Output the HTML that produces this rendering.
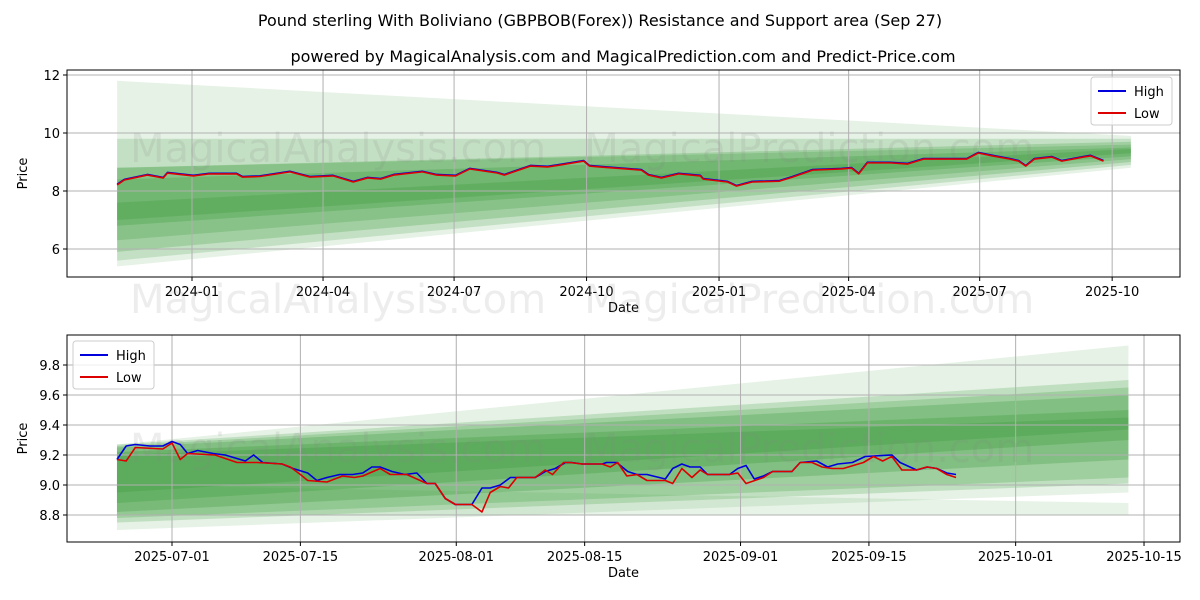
<!DOCTYPE html>
<html><head><meta charset="utf-8">
<style>
html,body{margin:0;padding:0;background:#fff;}
svg{display:block;font-family:"DejaVu Sans","Liberation Sans",sans-serif;}
</style></head>
<body>
<svg id="chart" width="1200" height="600" viewBox="0 0 1200 600" xmlns="http://www.w3.org/2000/svg">
<rect width="1200" height="600" fill="#fff"/>
<text x="600" y="26" font-size="16" text-anchor="middle">Pound sterling With Boliviano (GBPBOB(Forex)) Resistance and Support area (Sep 27)</text>
<text x="623" y="62" font-size="16" text-anchor="middle">powered by MagicalAnalysis.com and MagicalPrediction.com and Predict-Price.com</text>
<g id="top"></g>
<g id="bot"></g>
</svg>
<script>
// ---------- TOP CHART DATA (days since 2024-01-01) ----------
const topDays = [-52,-47,-31,-20,-17,1,12,31,35,47,68,82,98,112,122,131,140,160,170,183,193,212,217,235,247,256,272,276,283,312,317,326,338,353,355,372,378,389,408,417,431,451,458,463,469,485,497,508,538,546,556,568,574,579,585,597,604,619,624,633];
const topVals = [8.21,8.38,8.55,8.45,8.62,8.52,8.59,8.59,8.48,8.50,8.66,8.48,8.52,8.31,8.45,8.41,8.55,8.66,8.55,8.52,8.76,8.62,8.55,8.86,8.83,8.90,9.03,8.86,8.83,8.72,8.55,8.45,8.59,8.52,8.41,8.31,8.17,8.31,8.34,8.48,8.72,8.76,8.79,8.59,8.97,8.97,8.93,9.10,9.10,9.31,9.21,9.10,9.03,8.86,9.10,9.17,9.03,9.17,9.21,9.03];
const topTickLabels = ["2024-01","2024-04","2024-07","2024-10","2025-01","2025-04","2025-07","2025-10"];
const topTickDays = [0,91,182,274,366,456,547,639];
const topYTicks = [6,8,10,12];
const topBandStartLow = [5.4,5.6,5.9,6.3,6.8,7.0];
const topBandStartHigh = [11.8,9.8,8.8,8.8,8.4,7.6];
const topBandEndLow = [8.8,8.9,9.0,9.1,9.2,9.3];
const topBandEndHigh = [9.9,9.8,9.7,9.6,9.5,9.45];
const topBandAlpha = [0.13,0.2,0.25,0.25,0.3,0.3];

// ---------- BOTTOM CHART DATA (days since 2025-07-01) ----------
const hiDays = [-6,-5,-4,-2.4,-1,0,0.9,1.7,2.8,4.5,5.8,8,8.9,9.9,12,13.2,14.8,15.8,16.9,18.3,19.7,20.8,21.8,22.7,24,25.4,26.7,27.8,28.7,29.8,30.9,32.7,33.8,34.7,35.8,36.9,37.7,39.6,40.7,41.8,42.9,43.6,44.7,46.9,47.4,48.5,49.7,50.7,51.8,53.8,54.6,55.6,56.5,57.6,58.4,60.8,61.7,62.6,63.5,64.5,65.5,67.6,68.5,70.3,71.5,72.6,74.2,75.6,78.5,79.4,81.2,82.4,83.4,84.5,85.5];
const hiVals = [9.17,9.26,9.27,9.26,9.26,9.29,9.27,9.21,9.23,9.21,9.20,9.16,9.20,9.15,9.14,9.11,9.08,9.03,9.05,9.07,9.07,9.08,9.12,9.12,9.09,9.07,9.08,9.01,9.01,8.91,8.87,8.87,8.98,8.98,9.00,9.05,9.05,9.05,9.09,9.11,9.15,9.15,9.14,9.14,9.15,9.15,9.09,9.07,9.07,9.04,9.11,9.14,9.12,9.12,9.07,9.07,9.11,9.13,9.04,9.06,9.09,9.09,9.15,9.16,9.12,9.14,9.15,9.19,9.20,9.15,9.10,9.12,9.11,9.08,9.07];
const loDays = [-6,-5,-4,-1,0,0.9,1.7,4.7,7.1,9.3,12,12.9,14,14.8,16.9,18.6,19.9,20.8,22.7,23.8,25.6,27.8,28.7,29.8,30.9,32.7,33.8,34.7,35.8,36.7,37.6,39.6,40.7,41.5,42.7,43.4,44.7,46.9,47.8,48.6,49.6,50.7,51.8,53.8,54.6,55.6,56.7,57.6,58.4,60.8,61.7,62.6,64.5,65.5,67.6,68.5,69.8,70.9,72,73.2,75.4,76.5,77.5,78.5,79.6,81.2,82.3,83.4,84.5,85.5];
const loVals = [9.17,9.16,9.25,9.24,9.28,9.17,9.21,9.20,9.15,9.15,9.14,9.12,9.07,9.03,9.02,9.06,9.05,9.06,9.11,9.07,9.07,9.01,9.01,8.91,8.87,8.87,8.82,8.95,8.99,8.98,9.05,9.05,9.10,9.07,9.15,9.15,9.14,9.14,9.12,9.15,9.06,9.07,9.03,9.03,9.01,9.11,9.05,9.10,9.07,9.07,9.08,9.01,9.05,9.09,9.09,9.15,9.15,9.12,9.11,9.11,9.15,9.19,9.16,9.19,9.10,9.10,9.12,9.11,9.07,9.05];
const botTickLabels = ["2025-07-01","2025-07-15","2025-08-01","2025-08-15","2025-09-01","2025-09-15","2025-10-01","2025-10-15"];
const botTickDays = [0,14,31,45,62,76,92,106];
const botYTicks = [8.8,9.0,9.2,9.4,9.6,9.8];
const botBandStartLow = [8.70,8.75,8.78,8.82,8.88,8.95,8.80];
const botBandStartHigh = [9.27,9.27,9.26,9.25,9.22,9.20,9.00];
const botBandEndLow = [8.95,9.01,9.05,9.17,9.30,9.37,8.80];
const botBandEndHigh = [9.93,9.70,9.65,9.60,9.50,9.45,8.88];
const botBandAlpha = [0.13,0.22,0.25,0.28,0.3,0.3,0.12];

const NS = "http://www.w3.org/2000/svg";
function mk(parent, tag, attrs){const e=document.createElementNS(NS,tag);for(const k in attrs)e.setAttribute(k,attrs[k]);parent.appendChild(e);return e;}

function panel(g, cfg){
  const {L,R,T,B,xs,ys,bandStart,bandEnd,sL,sH,eL,eH,al,yTicks,yFmt,tickDays,tickLabels,lines,legendX,legendY,wm} = cfg;
  const clipId = cfg.id+"clip";
  const defs = mk(g,"defs",{});
  const cp = mk(defs,"clipPath",{id:clipId});
  mk(cp,"rect",{x:L,y:T,width:R-L,height:B-T});
  const plot = mk(g,"g",{"clip-path":"url(#"+clipId+")"});
  for(let i=0;i<sL.length;i++){
    const x0=xs(bandStart), x1=xs(bandEnd);
    const p = mk(plot,"polygon",{points:`${x0},${ys(sH[i])} ${x1},${ys(eH[i])} ${x1},${ys(eL[i])} ${x0},${ys(sL[i])}`,fill:"#3a9a3a","fill-opacity":al[i]});
    
    
  }
  yTicks.forEach(v=>{
    const y=ys(v);
    mk(plot,"line",{x1:L,x2:R,y1:y,y2:y,stroke:"#b0b0b0","stroke-width":1});
    const t=mk(g,"text",{x:L-7,y:y+5,"font-size":13,"text-anchor":"end"});t.textContent=yFmt(v);
    
    
    mk(g,"line",{x1:L-4,x2:L,y1:y,y2:y,stroke:"#000"});
  });
  tickDays.forEach((d,i)=>{
    const x=xs(d);
    mk(plot,"line",{x1:x,x2:x,y1:T,y2:B,stroke:"#b0b0b0","stroke-width":1});
    mk(g,"line",{x1:x,x2:x,y1:B,y2:B+4,stroke:"#000"});
    const t=mk(g,"text",{x:x,y:B+19,"font-size":13,"text-anchor":"middle"});t.textContent=tickLabels[i];
    
    
  });
  const w=mk(plot,"text",{x:wm[0],y:wm[1],"font-size":40,fill:"#888","fill-opacity":0.15});w.textContent="MagicalAnalysis.com   MagicalPrediction.com";
  w.style.whiteSpace="pre";
  lines.forEach(ln=>{
    const pts=ln.d.map((d,i)=>xs(d)+","+ys(ln.v[i])).join(" ");
    const pl=mk(plot,"polyline",{points:pts,fill:"none",stroke:ln.c,"stroke-width":1.6,"stroke-linejoin":"round"});
    
    
  });
  mk(g,"rect",{x:L,y:T,width:R-L,height:B-T,fill:"none",stroke:"#000","stroke-width":1});
  const yl=mk(g,"text",{x:0,y:0,"font-size":13,"text-anchor":"middle",transform:`translate(${L-40},${(T+B)/2}) rotate(-90)`});yl.textContent="Price";
  
  
  const xl=mk(g,"text",{x:(L+R)/2,y:B+35,"font-size":13,"text-anchor":"middle"});xl.textContent="Date";
  
  
  const lg=mk(g,"g",{});
  
  
  mk(lg,"rect",{x:legendX,y:legendY,width:81,height:48,rx:3,fill:"#fff","fill-opacity":0.8,stroke:"#ccc"});
  [["High","#0000dd"],["Low","#dd0000"]].forEach((e,i)=>{
    const y=legendY+14+i*22;
    mk(lg,"line",{x1:legendX+7,x2:legendX+35,y1:y,y2:y,stroke:e[1],"stroke-width":2});
    const t=mk(lg,"text",{x:legendX+43,y:y+5,"font-size":13});t.textContent=e[0];
    
    
  });
}

panel(document.getElementById("top"),{id:"t",L:67,R:1180,T:70,B:277,
  xs:d=>192+d*1.44, ys:v=>191-(v-8)*29,
  bandStart:-52,bandEnd:652,sL:topBandStartLow,sH:topBandStartHigh,eL:topBandEndLow,eH:topBandEndHigh,al:topBandAlpha,
  yTicks:topYTicks,yFmt:v=>String(v),tickDays:topTickDays,tickLabels:topTickLabels,
  lines:[{d:topDays,v:topVals.map(v=>v+0.02),c:"#0000dd",name:"high-line"},{d:topDays,v:topVals,c:"#dd0000",name:"low-line"}],
  legendX:1091,legendY:77,wm:[130,162]});

panel(document.getElementById("bot"),{id:"b",L:67,R:1180,T:335,B:542,
  xs:d=>172+d*9.17, ys:v=>485-(v-9)*150,
  bandStart:-6,bandEnd:104.3,sL:botBandStartLow,sH:botBandStartHigh,eL:botBandEndLow,eH:botBandEndHigh,al:botBandAlpha,
  yTicks:botYTicks,yFmt:v=>v.toFixed(1),tickDays:botTickDays,tickLabels:botTickLabels,
  lines:[{d:hiDays,v:hiVals,c:"#0000dd",name:"high-line"},{d:loDays,v:loVals,c:"#dd0000",name:"low-line"}],
  legendX:73,legendY:341,wm:[130,462]});
const wm2=mk(document.getElementById("chart"),"text",{x:130,y:313,"font-size":40,fill:"#888","fill-opacity":0.15});
wm2.textContent="MagicalAnalysis.com   MagicalPrediction.com";
wm2.style.whiteSpace="pre";


</script>
</body></html>
